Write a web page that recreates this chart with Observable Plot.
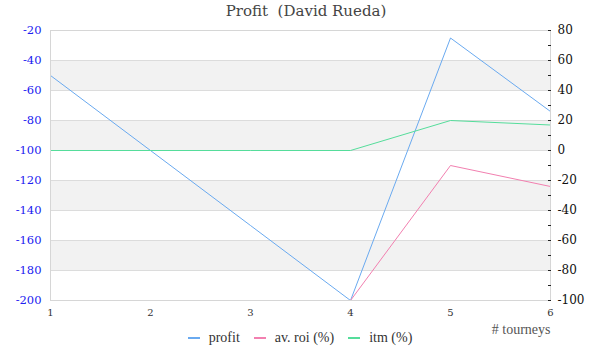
<!DOCTYPE html>
<html>
<head>
<meta charset="utf-8">
<script src="https://cdn.jsdelivr.net/npm/d3@7"></script>
<script src="https://cdn.jsdelivr.net/npm/@observablehq/plot@0.6"></script>
<style>
  html, body { margin: 0; padding: 0; background: #fff; }
  #wrap { position: relative; width: 600px; height: 360px; overflow: hidden; }
  #title { position: absolute; top: 2px; left: 0; width: 612px; text-align: center;
           font-family: "DejaVu Serif", serif; font-size: 15px; color: #444; }
  #chart { position: absolute; top: 0; left: 0; }
  #legend { position: absolute; top: 330px; left: 0; width: 600px; text-align: center;
            font-family: "Liberation Serif", serif; font-size: 14px; color: #333; }
  #legend span.item { display: inline-block; margin: 0 7px; }
  #legend span.sw { display: inline-block; width: 12px; height: 2px; vertical-align: middle; margin-right: 9px; position: relative; top: -1px; }
</style>
</head>
<body>
<div id="wrap">
  <div id="chart"></div>
  <div id="title">Profit&nbsp; (David Rueda)</div>
  <div id="legend"></div>
</div>
<script>
const tourneys = [1, 2, 3, 4, 5, 6];
const profit = [-50, -100, -150, -200, -25, -74];
const avRoi = [-100, -100, -100, -100, -10, -24];
const itm = [0, 0, 0, 0, 20, 17];
const seriesNames = ["profit", "av. roi (%)", "itm (%)"];
const seriesColors = ["#6aaaf0", "#f280b0", "#55dd9b"];
const leftTicks = [-200, -180, -160, -140, -120, -100, -80, -60, -40, -20];
const rightTicks = [-100, -80, -60, -40, -20, 0, 20, 40, 60, 80];
const rightMinorTicks = [-90, -70, -50, -30, -10, 10, 30, 50, 70];
const bands = [[-60, -40], [-100, -80], [-140, -120], [-180, -160]];

// right axis maps onto the left scale: left = right - 100
const rightOffset = -100;

const rows = [];
tourneys.forEach((t, i) => {
  rows.push({t, v: profit[i], s: seriesNames[0]});
  rows.push({t, v: avRoi[i] + rightOffset, s: seriesNames[1]});
  rows.push({t, v: itm[i] + rightOffset, s: seriesNames[2]});
});

const font = "DejaVu Serif, serif";

const chart = Plot.plot({
  width: 600,
  height: 360,
  marginTop: 30,
  marginBottom: 60,
  marginLeft: 50,
  marginRight: 50,
  style: {fontFamily: font, background: "transparent", overflow: "visible"},
  x: {type: "linear", domain: [1, 6]},
  y: {type: "linear", domain: [-200, -20]},
  color: {domain: seriesNames, range: seriesColors},
  marks: [
    Plot.rect(bands, {x1: 1, x2: 6, y1: d => d[0], y2: d => d[1], fill: "#f2f2f2"}),
    Plot.ruleY(leftTicks, {stroke: "#dcdcdc"}),
    Plot.line(rows, {x: "t", y: "v", z: "s", stroke: "s", strokeWidth: 1}),
    Plot.frame({stroke: "#d6d6d6"}),
    Plot.axisY(leftTicks, {anchor: "left", tickSize: 0, tickPadding: 9, fill: "#2020f0", fontSize: 11.5, tickFormat: d => String(d), label: null}),
    Plot.axisY(rightTicks.map(d => d + rightOffset), {anchor: "right", tickSize: 0, tickPadding: 7, fill: "#111", fontSize: 12, tickFormat: d => String(d - rightOffset), label: null}),
    Plot.axisY(rightTicks.concat(rightMinorTicks).map(d => d + rightOffset), {anchor: "right", tickSize: 3, dx: -3, stroke: "#222", tickFormat: () => "", label: null}),
    Plot.axisX(tourneys, {tickSize: 0, tickPadding: 8, fontSize: 10, fill: "#333", label: null}),
    Plot.text(["# tourneys"], {frameAnchor: "bottom-right", dy: 33, textAnchor: "end", fontSize: 14, fill: "#555", fontFamily: "Liberation Serif, serif"})
  ]
});
document.getElementById("chart").appendChild(chart);

const legend = document.getElementById("legend");
seriesNames.forEach((n, i) => {
  const item = document.createElement("span");
  item.className = "item";
  const sw = document.createElement("span");
  sw.className = "sw";
  sw.style.background = seriesColors[i];
  item.appendChild(sw);
  item.appendChild(document.createTextNode(n));
  legend.appendChild(item);
});
</script>
</body>
</html>
